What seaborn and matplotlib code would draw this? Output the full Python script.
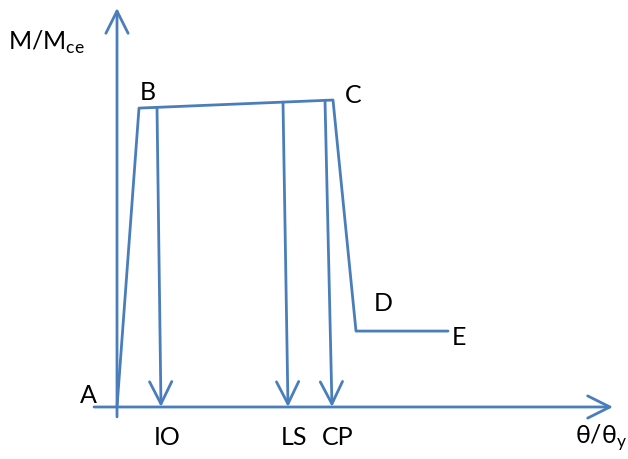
import numpy as np
import matplotlib
matplotlib.use('Agg')
import matplotlib.pyplot as plt
import seaborn as sns

# backbone curve A-B-C-D-E (theta/theta_y, M/Mce)
points = ['A', 'B', 'C', 'D', 'E']
theta = [0.0, 0.22, 2.16, 2.39, 3.31]
moment = [0.0, 1.0, 1.027, 0.254, 0.254]

# performance levels: where each arrow leaves the B-C line and where it lands
levels = ['IO', 'LS', 'CP']
level_top = [0.40, 1.66, 2.08]
level_tip = [0.44, 1.71, 2.15]

blue = '#4A7EBB'
lw = 2.0
fs = 18

sns.set_theme(style='white')
plt.rcParams['font.family'] = ['Lato', 'DejaVu Sans']
plt.rcParams['mathtext.fontset'] = 'custom'
plt.rcParams['mathtext.rm'] = 'Lato'

fig = plt.figure(figsize=(6.28, 4.6), dpi=100)
ax = fig.add_axes([0, 0, 1, 1])
ax.set_xlim(-1.17, 5.11)
ax.set_ylim(-0.174, 1.365)
ax.axis('off')

# the backbone
sns.lineplot(x=theta, y=moment, sort=False, color=blue, lw=lw, ax=ax)

arrow = dict(arrowstyle='->,head_length=1.6,head_width=0.8', color=blue,
             lw=lw, shrinkA=0, shrinkB=0, mutation_scale=10)

# axes drawn as arrows
ax.annotate('', xy=(4.96, 0), xytext=(-0.23, 0), arrowprops=arrow)
ax.annotate('', xy=(0, 1.335), xytext=(0, -0.033), arrowprops=arrow)

# performance level arrows hanging from the B-C segment
for name, top, tip in zip(levels, level_top, level_tip):
    y_top = np.interp(top, theta[1:3], moment[1:3])
    ax.annotate('', xy=(tip, 0), xytext=(top, y_top), arrowprops=arrow)
    ax.text(tip + 0.06, -0.10, name, ha='center', va='center', fontsize=fs,
            color='black')

# point labels
label_pos = {'A': (-0.29, 0.043), 'B': (0.31, 1.054), 'C': (2.36, 1.047),
             'D': (2.66, 0.351), 'E': (3.42, 0.237)}
for p in points:
    x, y = label_pos[p]
    ax.text(x, y, p, ha='center', va='center', fontsize=fs, color='black')

# axis titles
ax.text(-1.09, 1.224, r'M/M$_\mathregular{ce}$', ha='left', va='center',
        fontsize=fs, color='black')
ax.text(4.58, -0.10, r'θ/θ$_\mathregular{y}$', ha='left', va='center',
        fontsize=fs, color='black')

fig.savefig('out.png', dpi=100)
